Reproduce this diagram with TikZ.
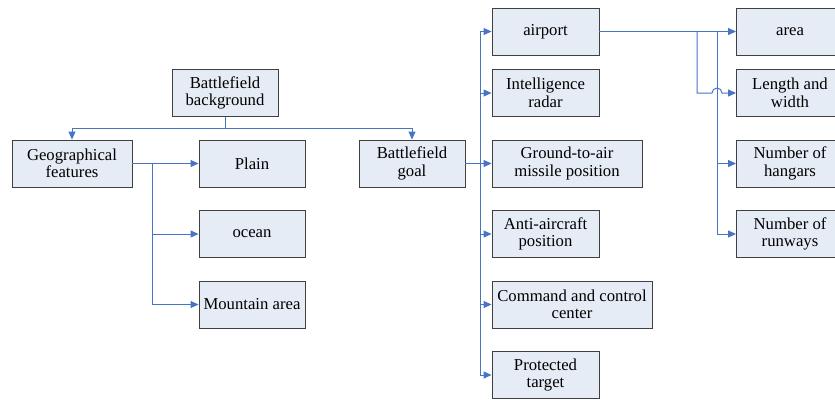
\documentclass[tikz,border=0pt]{standalone}
\usepackage{fontspec}
\setmainfont{Liberation Serif}
\usetikzlibrary{arrows.meta}
\definecolor{boxfill}{RGB}{230,236,246}
\definecolor{linkblue}{RGB}{72,116,196}
\tikzset{
  box/.style={draw=black!75, fill=boxfill, line width=0.9pt, minimum height=47pt,
    inner sep=1pt, align=center, font=\fontsize{16.7}{17.5}\selectfont},
  link/.style={draw=linkblue, line width=1pt, -{Triangle[length=8pt,width=7pt]}},
  bare/.style={draw=linkblue, line width=1pt}
}
\begin{document}
\begin{tikzpicture}[x=1pt,y=-1pt]
  \useasboundingbox (0,0) rectangle (835,399);
  % left part
  \node[box, minimum width=106pt] (bg) at (225,93) {Battlefield\\background};
  \node[box, minimum width=120pt] (geo) at (72,163.5) {Geographical\\features};
  \node[box, minimum width=106pt] (plain) at (252,163.5) {Plain};
  \node[box, minimum width=106pt] (ocean) at (252,234) {ocean};
  \node[box, minimum width=106pt] (mount) at (252,304.5) {Mountain area};
  \node[box, minimum width=106pt] (goal) at (412,163.5) {Battlefield\\goal};
  % targets
  \node[box, minimum width=107pt] (airport) at (545.5,31.5) {airport};
  \node[box, minimum width=107pt] (radar) at (545.5,93) {Intelligence\\radar};
  \node[box, minimum width=150pt] (missile) at (567,163.5) {Ground-to-air\\missile position};
  \node[box, minimum width=107pt] (aa) at (545.5,234) {Anti-aircraft\\position};
  \node[box, minimum width=160pt] (cmd) at (572,304.5) {Command and control\\center};
  \node[box, minimum width=107pt] (target) at (545.5,375) {Protected\\target};
  % airport data
  \node[box, minimum width=107pt] (area) at (790,31.5) {area};
  \node[box, minimum width=107pt] (lw) at (790,93) {Length and\\width};
  \node[box, minimum width=107pt] (hangars) at (790,163.5) {Number of\\hangars};
  \node[box, minimum width=107pt] (runways) at (790,234) {Number of\\runways};

  \coordinate (bgjoin) at (225,128);
  \coordinate (geotrunk) at (152,163.5);
  \coordinate (goaltrunk) at (480,163.5);
  \coordinate (apa) at (697,31.5);
  \coordinate (apb) at (717,31.5);

  \draw[bare] (bg.south) -- (bgjoin);
  \draw[link] (bgjoin) -| (geo.north);
  \draw[link] (bgjoin) -| (goal.north);

  \draw[link] (geo.east) -- (plain.west);
  \draw[link] (geotrunk) |- (ocean.west);
  \draw[link] (geotrunk) |- (mount.west);

  \draw[bare] (goal.east) -- (goaltrunk);
  \foreach \n in {airport,radar,missile,aa,cmd,target}
    \draw[link] (goaltrunk) |- (\n.west);

  \draw[link] (airport.east) -- (area.west);
  \draw[link] (apa) -- (apa |- lw.west) -- ++(15,0)
    arc[start angle=180, end angle=0, radius=5pt] -- (lw.west);
  \draw[link] (apb) |- (hangars.west);
  \draw[link] (apb) |- (runways.west);
\end{tikzpicture}
\end{document}
